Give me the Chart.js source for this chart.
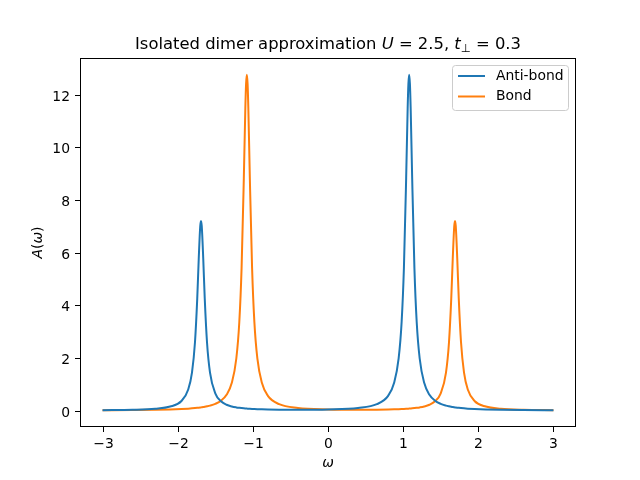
<!DOCTYPE html>
<html>
<head>
<meta charset="utf-8">
<script src="https://cdn.jsdelivr.net/npm/chart.js@4.4.0/dist/chart.umd.min.js"></script>
<style>
  body { margin: 0; background: #fff; }
</style>
</head>
<body>
<canvas id="grafico" width="640" height="480"></canvas>
<script>
// frecuencias omega (muestreo mas denso cerca de los picos)
const omega = [-3.0, -2.6, -2.3, -2.1, -1.95, -1.86, -1.81, -1.77, -1.74, -1.72, -1.70, -1.69, -1.68, -1.66, -1.64, -1.61, -1.57, -1.5, -1.42, -1.35, -1.28, -1.22, -1.18, -1.15, -1.12, -1.10, -1.09, -1.08, -1.07, -1.06, -1.04, -1.01, -0.98, -0.94, -0.88, -0.8, -0.65, -0.4,
  0,
  0.4, 0.65, 0.8, 0.88, 0.94, 0.98, 1.01, 1.04, 1.06, 1.07, 1.08, 1.09, 1.10, 1.12, 1.15, 1.18, 1.22, 1.28, 1.35, 1.42, 1.5, 1.57, 1.61, 1.64, 1.66, 1.68, 1.69, 1.70, 1.72, 1.74, 1.77, 1.81, 1.86, 1.95, 2.1, 2.3, 2.6, 3.0];

const antiBond = [0.0178, 0.0346, 0.0730, 0.1555, 0.369, 0.803, 1.446, 2.598, 4.255, 5.766, 7.011, 7.206, 7.011, 5.766, 4.255, 2.598, 1.447, 0.660, 0.346, 0.225, 0.159, 0.124, 0.107, 0.097, 0.0884, 0.0834, 0.0810, 0.0788, 0.0767, 0.0747, 0.0710, 0.0661, 0.0619, 0.0570, 0.0512, 0.0456, 0.0392, 0.0365,
  0.0483,
  0.1044, 0.248, 0.564, 1.057, 1.982, 3.379, 5.404, 8.831, 11.479, 12.409, 12.754, 12.409, 11.479, 8.830, 5.403, 3.378, 1.981, 1.056, 0.603, 0.388, 0.258, 0.191, 0.164, 0.147, 0.137, 0.1285, 0.1245, 0.1206, 0.1134, 0.1068, 0.0979, 0.0877, 0.0771, 0.0624, 0.0458, 0.0324, 0.0212, 0.0136];

const bond = [0.0136, 0.0212, 0.0324, 0.0458, 0.0624, 0.0771, 0.0877, 0.0979, 0.1068, 0.1134, 0.1206, 0.1245, 0.1285, 0.137, 0.147, 0.164, 0.191, 0.258, 0.388, 0.603, 1.056, 1.981, 3.378, 5.403, 8.830, 11.479, 12.409, 12.754, 12.409, 11.479, 8.831, 5.404, 3.379, 1.982, 1.057, 0.564, 0.248, 0.1044,
  0.0483,
  0.0365, 0.0392, 0.0456, 0.0512, 0.0570, 0.0619, 0.0661, 0.0710, 0.0747, 0.0767, 0.0788, 0.0810, 0.0834, 0.0884, 0.097, 0.107, 0.124, 0.159, 0.225, 0.346, 0.660, 1.447, 2.598, 4.255, 5.766, 7.011, 7.206, 7.011, 5.766, 4.255, 2.598, 1.446, 0.803, 0.369, 0.1555, 0.0730, 0.0346, 0.0178];

const xTicks = [-3, -2, -1, 0, 1, 2, 3];
const yTicks = [0, 2, 4, 6, 8, 10, 12];
const nombres = ['Anti-bond', 'Bond'];
const colores = ['#1f77b4', '#ff7f0e'];

const FUENTE = '"DejaVu Sans", sans-serif';

// dibuja un texto con partes en cursiva / subindice
function textoMixto(ctx, partes, x, y, size, centrado) {
  let total = 0;
  partes.forEach(p => {
    const s = p.sub ? size * 0.7 : size;
    ctx.font = (p.it ? 'italic ' : '') + s + 'px ' + FUENTE;
    p.w = ctx.measureText(p.t).width;
    total += p.w;
  });
  let cx = centrado ? x - total / 2 : x;
  partes.forEach(p => {
    const s = p.sub ? size * 0.7 : size;
    ctx.font = (p.it ? 'italic ' : '') + s + 'px ' + FUENTE;
    ctx.fillText(p.t, cx, p.sub ? y + size * 0.2 : y);
    cx += p.w;
  });
}

const extras = {
  id: 'extras',
  afterDraw(chart) {
    const ctx = chart.ctx;
    const a = chart.chartArea;
    const sx = chart.scales.x, sy = chart.scales.y;
    ctx.save();
    // marco completo
    ctx.strokeStyle = '#000';
    ctx.lineWidth = 1;
    ctx.strokeRect(a.left + 0.5, a.top + 0.5, a.right - a.left - 1, a.bottom - a.top - 1);

    // marcas y etiquetas de los ejes
    ctx.fillStyle = '#000';
    ctx.font = '13.9px ' + FUENTE;
    ctx.textBaseline = 'alphabetic';
    ctx.textAlign = 'center';
    xTicks.forEach(v => {
      const px = Math.round(sx.getPixelForValue(v));
      ctx.fillRect(px, a.bottom - 1, 1, 6);
      ctx.fillText(v < 0 ? '\u2212' + Math.abs(v) : String(v), px + 0.5, 448);
    });
    ctx.textAlign = 'right';
    yTicks.forEach(v => {
      const py = Math.round(sy.getPixelForValue(v));
      ctx.fillRect(a.left - 5, py, 6, 1);
      ctx.fillText(String(v), 70, py + 5.5);
    });

    ctx.textAlign = 'left';
    // titulo
    textoMixto(ctx, [
      { t: 'Isolated dimer approximation ' },
      { t: 'U', it: true },
      { t: ' = 2.5, ' },
      { t: 't', it: true },
      { t: '\u22A5', sub: true },
      { t: ' = 0.3' }
    ], (a.left + a.right) / 2, 49, 16.4, true);

    // etiqueta eje x
    textoMixto(ctx, [{ t: '\u03C9', it: true }], (a.left + a.right) / 2, 467, 13.9, true);

    // etiqueta eje y
    ctx.save();
    ctx.translate(42, (a.top + a.bottom) / 2);
    ctx.rotate(-Math.PI / 2);
    textoMixto(ctx, [
      { t: 'A', it: true }, { t: '(' }, { t: '\u03C9', it: true }, { t: ')' }
    ], 0, 0, 13.9, true);
    ctx.restore();

    // leyenda
    const lx = 452.5, ly = 65.5, lw = 116, lh = 45;
    ctx.beginPath();
    ctx.roundRect(lx, ly, lw, lh, 3);
    ctx.fillStyle = 'rgba(255,255,255,0.8)';
    ctx.fill();
    ctx.strokeStyle = '#cccccc';
    ctx.stroke();
    ctx.lineWidth = 2;
    nombres.forEach((n, i) => {
      const yy = 76 + i * 20.5;
      ctx.strokeStyle = colores[i];
      ctx.beginPath();
      ctx.moveTo(458, yy);
      ctx.lineTo(485, yy);
      ctx.stroke();
      ctx.fillStyle = '#000';
      ctx.font = '13.9px ' + FUENTE;
      ctx.textBaseline = 'middle';
      ctx.fillText(n, 496, yy);
    });
    ctx.restore();
  }
};

new Chart(document.getElementById('grafico').getContext('2d'), {
  type: 'line',
  data: {
    datasets: [
      {
        label: nombres[0],
        data: omega.map((w, i) => ({ x: w, y: antiBond[i] })),
        borderColor: colores[0],
        borderWidth: 2,
        pointRadius: 0,
        cubicInterpolationMode: 'monotone',
        fill: false
      },
      {
        label: nombres[1],
        data: omega.map((w, i) => ({ x: w, y: bond[i] })),
        borderColor: colores[1],
        borderWidth: 2,
        pointRadius: 0,
        cubicInterpolationMode: 'monotone',
        fill: false
      }
    ]
  },
  options: {
    responsive: false,
    animation: false,
    layout: { padding: { left: 0, top: 58, right: 64, bottom: 0 } },
    plugins: {
      legend: { display: false },
      title: { display: false },
      tooltip: { enabled: false }
    },
    scales: {
      x: {
        type: 'linear',
        min: -3.3,
        max: 3.3,
        afterBuildTicks: s => { s.ticks = xTicks.map(v => ({ value: v })); },
        afterFit: s => { s.height = 53; },
        grid: { display: false },
        border: { display: false },
        ticks: { display: false }
      },
      y: {
        min: -0.62,
        max: 13.39,
        afterBuildTicks: s => { s.ticks = yTicks.map(v => ({ value: v })); },
        afterFit: s => { s.width = 80; },
        grid: { display: false },
        border: { display: false },
        ticks: { display: false }
      }
    }
  },
  plugins: [extras]
});
</script>
</body>
</html>
